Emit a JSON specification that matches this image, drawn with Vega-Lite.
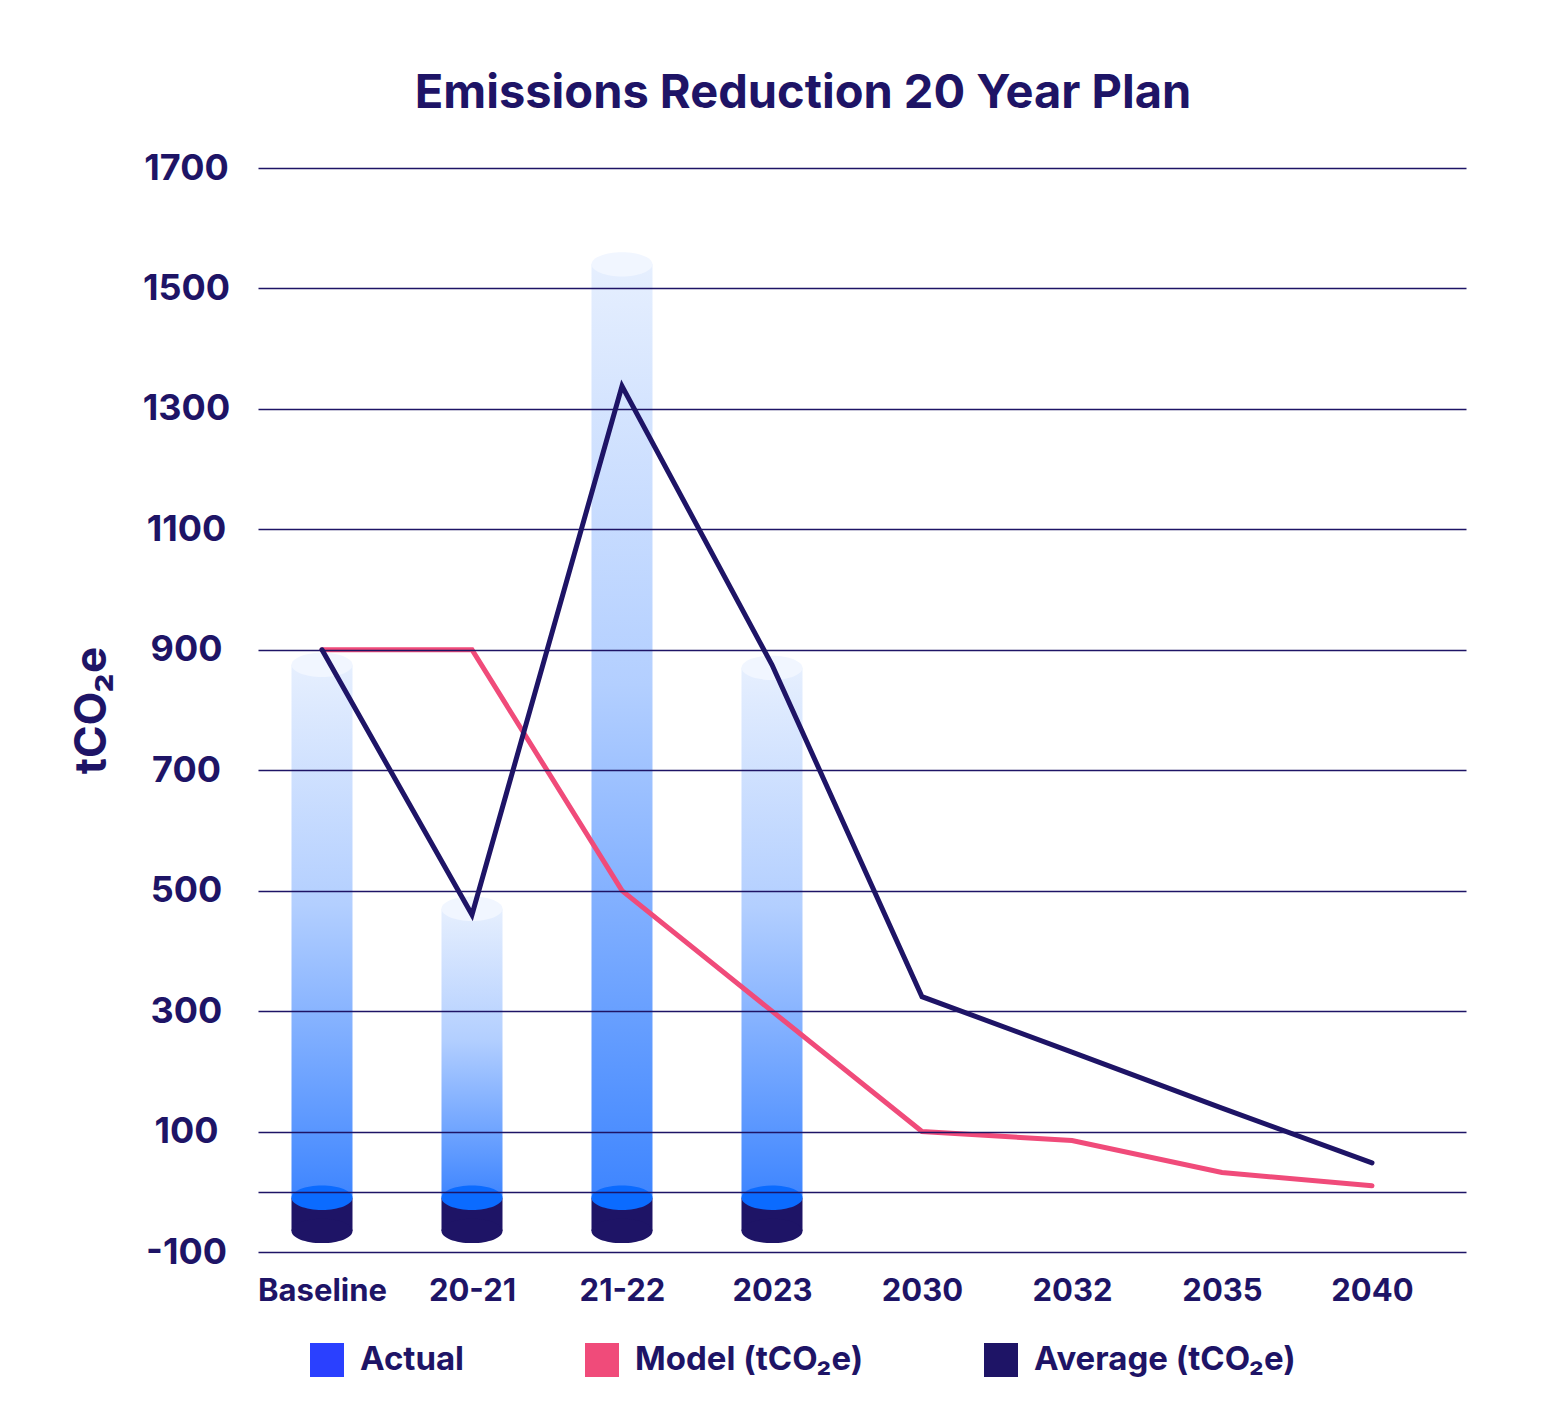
{
  "$schema": "https://vega.github.io/schema/vega-lite/v6.json",
  "autosize": {"type": "none"},
  "width": 1208,
  "height": 1084,
  "padding": {"left": 258, "top": 168, "right": 102, "bottom": 158},
  "background": "#ffffff",
  "config": {
    "font": "Inter",
    "view": {"stroke": null},
    "axis": {"labelFont": "Inter", "labelFontWeight": "bold", "labelColor": "#1e1466", "titleFont": "Inter", "titleColor": "#1e1466", "titleFontWeight": "bold"},
    "legend": {"labelFont": "Inter", "labelFontWeight": "bold", "labelColor": "#1e1466"}
  },
  "title": {
    "text": "Emissions Reduction 20 Year Plan",
    "font": "Inter",
    "fontSize": 47,
    "fontWeight": "bold",
    "color": "#1e1466",
    "anchor": "middle",
    "dx": -59,
    "offset": 32
  },
  "data": {
    "values": [
      {"period": "Baseline", "actual": 875, "Model (tCO₂e)": 900, "Average (tCO₂e)": 900},
      {"period": "20-21", "actual": 470, "Model (tCO₂e)": 900, "Average (tCO₂e)": 460},
      {"period": "21-22", "actual": 1540, "Model (tCO₂e)": 500, "Average (tCO₂e)": 1338},
      {"period": "2023", "actual": 870, "Model (tCO₂e)": 300, "Average (tCO₂e)": 875},
      {"period": "2030", "actual": null, "Model (tCO₂e)": 100, "Average (tCO₂e)": 324},
      {"period": "2032", "actual": null, "Model (tCO₂e)": 85, "Average (tCO₂e)": 232},
      {"period": "2035", "actual": null, "Model (tCO₂e)": 32, "Average (tCO₂e)": 139},
      {"period": "2040", "actual": null, "Model (tCO₂e)": 10, "Average (tCO₂e)": 48}
    ]
  },
  "encoding": {
    "x": {
      "field": "period",
      "type": "ordinal",
      "sort": null,
      "scale": {"type": "point", "padding": 0.5267, "align": 0.405},
      "axis": {"title": null, "labelAngle": 0, "labelFontSize": 31, "labelPadding": 24, "ticks": false, "domain": false, "grid": false}
    }
  },
  "layer": [
    {
      "transform": [{"filter": "datum.actual != null"}],
      "mark": {"type": "bar", "size": 61, "color": "#1e1466"},
      "encoding": {
        "y": {"datum": -10, "type": "quantitative", "scale": {"domain": [-100, 1700], "nice": false, "zero": false},
          "axis": {
            "title": "tCO₂e",
            "titleFontSize": 44,
            "titleAngle": 270,
            "titleX": -166,
            "titleY": 542,
            "titleAlign": "center",
            "titleBaseline": "middle",
            "values": [-100, 0, 100, 300, 500, 700, 900, 1100, 1300, 1500, 1700],
            "labelExpr": "datum.value == 0 ? '' : '' + datum.value",
            "labelFontSize": 36,
            "labelAlign": "center",
            "labelPadding": 72,
            "ticks": false,
            "domain": false,
            "grid": true,
            "gridColor": "#1e1466",
            "gridWidth": 1.5,
            "gridOpacity": 1,
            "zindex": 1
          }
        },
        "y2": {"datum": -65}
      }
    },
    {
      "transform": [{"filter": "datum.actual != null"}],
      "mark": {"type": "point", "filled": true, "opacity": 1, "size": 3721, "shape": "M -1 0 A 1 0.4 0 1 0 1 0 A 1 0.4 0 1 0 -1 0 Z", "color": "#1e1466", "strokeWidth": 0},
      "encoding": {"y": {"datum": -65}}
    },
    {
      "transform": [{"filter": "datum.actual != null"}],
      "mark": {
        "type": "bar",
        "size": 61,
        "color": {
          "gradient": "linear",
          "x1": 0, "y1": 0, "x2": 0, "y2": 1,
          "stops": [
            {"offset": 0, "color": "#e6effe"},
            {"offset": 0.45, "color": "#b3cfff"},
            {"offset": 1, "color": "#3e85ff"}
          ]
        }
      },
      "encoding": {
        "y": {"field": "actual", "type": "quantitative"},
        "y2": {"datum": -10}
      }
    },
    {
      "transform": [{"filter": "datum.actual != null"}],
      "mark": {"type": "point", "filled": true, "opacity": 1, "size": 3721, "shape": "M -1 0 A 1 0.4 0 1 0 1 0 A 1 0.4 0 1 0 -1 0 Z", "color": "#0b6bff", "strokeWidth": 0},
      "encoding": {"y": {"datum": -10}}
    },
    {
      "transform": [{"filter": "datum.actual != null"}],
      "mark": {"type": "point", "filled": true, "opacity": 1, "size": 3721, "shape": "M -1 0 A 1 0.4 0 1 0 1 0 A 1 0.4 0 1 0 -1 0 Z", "color": "#f1f6ff", "strokeWidth": 0},
      "encoding": {"y": {"field": "actual", "type": "quantitative"}}
    },
    {
      "transform": [{"fold": ["Model (tCO₂e)", "Average (tCO₂e)"], "as": ["series", "value"]}],
      "mark": {"type": "line", "strokeWidth": 5, "strokeCap": "round", "strokeJoin": "miter"},
      "encoding": {
        "y": {"field": "value", "type": "quantitative"},
        "color": {
          "field": "series",
          "type": "nominal",
          "scale": {"domain": ["Actual", "Model (tCO₂e)", "Average (tCO₂e)"], "range": ["#2a40ff", "#f04b7a", "#1e1466"]},
          "legend": {
            "title": null,
            "orient": "none",
            "legendX": 52,
            "legendY": 1175,
            "direction": "horizontal",
            "columns": 3,
            "symbolType": "square",
            "symbolSize": 1156,
            "symbolStrokeWidth": 0,
            "labelFontSize": 33,
            "labelOffset": 16,
            "columnPadding": 120,
            "labelLimit": 400,
            "encode": {
              "symbols": {"update": {"fill": {"scale": "color", "field": "value"}, "strokeWidth": {"value": 0}, "opacity": {"value": 1}}}
            }
          }
        }
      }
    }
  ]
}
